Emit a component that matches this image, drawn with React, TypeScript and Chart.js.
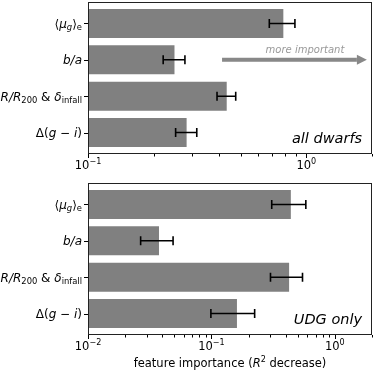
import React, { useEffect, useRef } from "react";
import { Chart, registerables } from "chart.js";

Chart.register(...registerables);

type Seg = { t: string; it?: boolean; sub?: boolean; sup?: boolean };

// ---- data ----
const categories: Seg[][] = [
  [{ t: "⟨" }, { t: "μ", it: true }, { t: "g", it: true, sub: true }, { t: "⟩" }, { t: "e", sub: true }],
  [{ t: "b/a", it: true }],
  [{ t: "R/R", it: true }, { t: "200", sub: true }, { t: " & " }, { t: "δ", it: true }, { t: "infall", sub: true }],
  [{ t: "Δ(" }, { t: "g", it: true }, { t: " − " }, { t: "i", it: true }, { t: ")" }],
];

const allValues = [0.785, 0.249, 0.432, 0.283];
const allErrLow = [0.677, 0.221, 0.39, 0.252];
const allErrHigh = [0.887, 0.278, 0.475, 0.315];

const udgValues = [0.44, 0.0376, 0.426, 0.161];
const udgErrLow = [0.308, 0.0267, 0.301, 0.099];
const udgErrHigh = [0.582, 0.0489, 0.547, 0.224];

const topMajorTicks = [0.1, 1];
const topTickLabels: Seg[][] = [
  [{ t: "10" }, { t: "−1", sup: true }],
  [{ t: "10" }, { t: "0", sup: true }],
];
const bottomMajorTicks = [0.01, 0.1, 1];
const bottomTickLabels: Seg[][] = [
  [{ t: "10" }, { t: "−2", sup: true }],
  [{ t: "10" }, { t: "−1", sup: true }],
  [{ t: "10" }, { t: "0", sup: true }],
];

const topLabel = "all dwarfs";
const bottomLabel = "UDG only";
const arrowText = "more important";
const xTitle: Seg[] = [
  { t: "feature importance (" },
  { t: "R", it: true },
  { t: "2", sup: true },
  { t: " decrease)" },
];

const FONT = '"DejaVu Sans", sans-serif';

function segFont(size: number, s: Seg) {
  const fs = s.sub || s.sup ? size * 0.7 : size;
  return `${s.it ? "italic " : ""}${fs}px ${FONT}`;
}

function drawRich(
  ctx: CanvasRenderingContext2D,
  segs: Seg[],
  x: number,
  y: number,
  align: "left" | "right" | "center",
  size: number,
  color: string
) {
  ctx.save();
  ctx.textAlign = "left";
  ctx.textBaseline = "alphabetic";
  ctx.fillStyle = color;
  const widths = segs.map((s) => {
    ctx.font = segFont(size, s);
    return ctx.measureText(s.t).width;
  });
  const total = widths.reduce((a, b) => a + b, 0);
  let cx = align === "left" ? x : align === "right" ? x - total : x - total / 2;
  segs.forEach((s, i) => {
    ctx.font = segFont(size, s);
    const dy = s.sub ? size * 0.22 : s.sup ? -size * 0.42 : 0;
    ctx.fillText(s.t, cx, y + dy);
    cx += widths[i];
  });
  ctx.restore();
}

type PanelCfg = {
  values: number[];
  errLow: number[];
  errHigh: number[];
  xMin: number;
  xMax: number;
  majorTicks: number[];
  tickLabels: Seg[][];
  label: string;
  arrow: boolean;
  title: Seg[] | null;
  height: number;
  padTop: number;
  xAxisHeight: number;
};

function makePlugin(cfg: PanelCfg) {
  return {
    id: "panelDecor",
    afterDatasetsDraw(chart: any) {
      const ctx: CanvasRenderingContext2D = chart.ctx;
      const { left, right, top, bottom } = chart.chartArea;
      const xs = chart.scales.x;
      const ys = chart.scales.y;
      const fs = 11.5;
      const yfs = 12;

      // error bars
      ctx.save();
      ctx.strokeStyle = "#000";
      ctx.lineWidth = 1.6;
      cfg.values.forEach((_, i) => {
        const y = ys.getPixelForValue(i);
        const x1 = xs.getPixelForValue(cfg.errLow[i]);
        const x2 = xs.getPixelForValue(cfg.errHigh[i]);
        ctx.beginPath();
        ctx.moveTo(x1, y);
        ctx.lineTo(x2, y);
        ctx.moveTo(x1, y - 4.5);
        ctx.lineTo(x1, y + 4.5);
        ctx.moveTo(x2, y - 4.5);
        ctx.lineTo(x2, y + 4.5);
        ctx.stroke();
      });
      ctx.restore();

      // spines
      ctx.save();
      ctx.strokeStyle = "#222";
      ctx.lineWidth = 1;
      ctx.strokeRect(Math.round(left) + 0.5, Math.round(top) + 0.5, Math.round(right - left) - 1, Math.round(bottom - top) - 1);

      // y ticks and labels
      ctx.strokeStyle = "#000";
      categories.forEach((segs, i) => {
        const y = ys.getPixelForValue(i);
        ctx.beginPath();
        ctx.moveTo(left, Math.round(y) + 0.5);
        ctx.lineTo(left - 4, Math.round(y) + 0.5);
        ctx.stroke();
        drawRich(ctx, segs, left - 6, y + yfs * 0.36, "right", yfs, "#000");
      });

      // x ticks
      const b = Math.round(bottom);
      const lo = Math.floor(Math.log10(cfg.xMin));
      const hi = Math.ceil(Math.log10(cfg.xMax));
      for (let d = lo; d <= hi; d++) {
        for (let k = 1; k <= 9; k++) {
          const v = k * Math.pow(10, d);
          if (v < cfg.xMin * 0.999 || v > cfg.xMax * 1.001) continue;
          const x = Math.round(xs.getPixelForValue(v)) + 0.5;
          const len = k === 1 ? 4 : 2.5;
          ctx.beginPath();
          ctx.moveTo(x, b);
          ctx.lineTo(x, b + len);
          ctx.stroke();
        }
      }
      cfg.majorTicks.forEach((v, i) => {
        const x = xs.getPixelForValue(v);
        drawRich(ctx, cfg.tickLabels[i], x, b + 15, "center", fs, "#000");
      });

      // panel label
      ctx.font = `italic 14.5px ${FONT}`;
      ctx.fillStyle = "#000";
      ctx.textAlign = "right";
      ctx.textBaseline = "middle";
      ctx.fillText(cfg.label, left + (right - left) * 0.965, top + (bottom - top) * 0.9);

      if (cfg.arrow) {
        const ay = top + (bottom - top) * 0.38;
        const ax1 = left + (right - left) * 0.472;
        const ax2 = left + (right - left) * 0.982;
        ctx.fillStyle = "#888";
        ctx.fillRect(ax1, ay - 2, ax2 - 10 - ax1, 4);
        ctx.beginPath();
        ctx.moveTo(ax2 - 10, ay - 5);
        ctx.lineTo(ax2, ay);
        ctx.lineTo(ax2 - 10, ay + 5);
        ctx.closePath();
        ctx.fill();
        ctx.font = `italic 10px ${FONT}`;
        ctx.fillStyle = "#999";
        ctx.textAlign = "center";
        ctx.textBaseline = "middle";
        ctx.fillText(arrowText, left + (right - left) * 0.764, top + (bottom - top) * 0.316);
      }

      if (cfg.title) {
        drawRich(ctx, cfg.title, (left + right) / 2, b + 32, "center", fs, "#000");
      }
      ctx.restore();
    },
  };
}

function Panel({ cfg }: { cfg: PanelCfg }) {
  const ref = useRef<HTMLCanvasElement | null>(null);
  useEffect(() => {
    if (!ref.current) return;
    const chart = new Chart(ref.current, {
      type: "bar",
      data: {
        datasets: [
          {
            data: cfg.values.map((v, i) => ({ x: v, y: i })),
            backgroundColor: "#808080",
            borderWidth: 0,
            barPercentage: 0.8,
            categoryPercentage: 1,
          },
        ],
      },
      options: {
        indexAxis: "y",
        animation: false,
        responsive: false,
        events: [],
        layout: { padding: { top: cfg.padTop, right: 2, left: 0, bottom: 0 } },
        plugins: { legend: { display: false }, tooltip: { enabled: false } },
        scales: {
          x: {
            type: "logarithmic",
            min: cfg.xMin,
            max: cfg.xMax,
            grid: { display: false },
            border: { display: false },
            ticks: { display: false },
            afterFit: (s: any) => {
              s.height = cfg.xAxisHeight;
            },
          },
          y: {
            type: "linear",
            min: -0.59,
            max: 3.59,
            reverse: true,
            offset: false,
            grid: { display: false, offset: false },
            border: { display: false },
            ticks: { display: false },
            afterBuildTicks: (s: any) => {
              s.ticks = cfg.values.map((_, i) => ({ value: i }));
            },
            afterFit: (s: any) => {
              s.width = 88;
            },
          },
        },
      } as any,
      plugins: [makePlugin(cfg)],
    });
    return () => chart.destroy();
  }, [cfg]);
  return <canvas ref={ref} width={374} height={cfg.height} style={{ display: "block" }} />;
}

const topCfg: PanelCfg = {
  values: allValues,
  errLow: allErrLow,
  errHigh: allErrHigh,
  xMin: 0.1,
  xMax: 2,
  majorTicks: topMajorTicks,
  tickLabels: topTickLabels,
  label: topLabel,
  arrow: true,
  title: null,
  height: 176,
  padTop: 2,
  xAxisHeight: 22,
};

const bottomCfg: PanelCfg = {
  values: udgValues,
  errLow: udgErrLow,
  errHigh: udgErrHigh,
  xMin: 0.01,
  xMax: 2,
  majorTicks: bottomMajorTicks,
  tickLabels: bottomTickLabels,
  label: bottomLabel,
  arrow: false,
  title: xTitle,
  height: 196,
  padTop: 7,
  xAxisHeight: 37,
};

export default function App() {
  return (
    <div style={{ position: "absolute", left: 0, top: 0, width: 374, height: 372, background: "#fff" }}>
      <Panel cfg={topCfg} />
      <Panel cfg={bottomCfg} />
    </div>
  );
}
